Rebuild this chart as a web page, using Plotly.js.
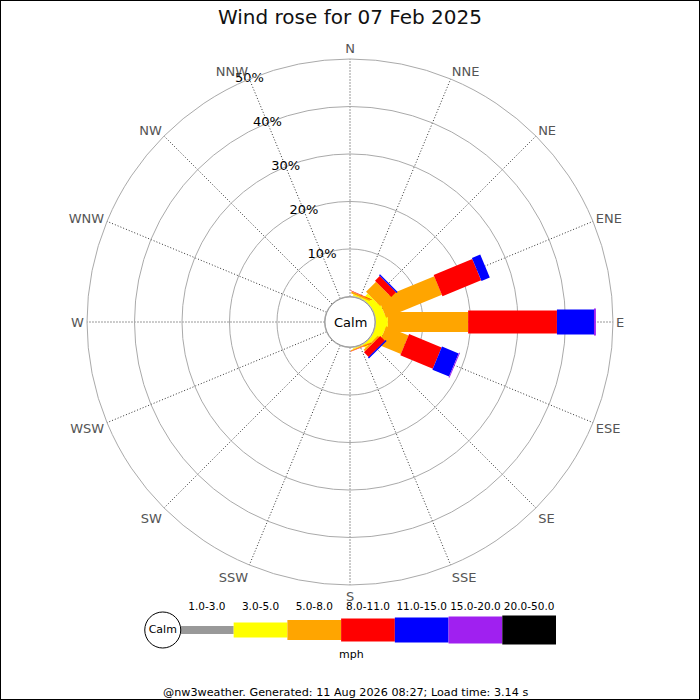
<!DOCTYPE html>
<html>
<head>
<meta charset="utf-8">
<script src="https://cdn.plot.ly/plotly-3.0.1.min.js"></script>
<style>
  html, body { margin: 0; padding: 0; background: #fff; }
  #chart { width: 700px; height: 700px; }
</style>
</head>
<body>
<div id="chart"></div>
<script>
// wind rose, 07 Feb 2025 - percent of time per direction and speed class
directions = ["N","NNE","NE","ENE","E","ESE","SE","SSE","S","SSW","SW","WSW","W","WNW","NW","NNW"];
angles = [0,22.5,45,67.5,90,112.5,135,157.5,180,202.5,225,247.5,270,292.5,315,337.5];

speed_classes = ["1.0-3.0","3.0-5.0","5.0-8.0","8.0-11.0","11.0-15.0","15.0-20.0","20.0-50.0"];
class_colors = ["#999999","#ffff00","#ffa500","#ff0000","#0000ff","#a020f0","#000000"];
class_widths = [8, 15, 20, 23, 25, 27, 29];

// one array per speed class, values per direction (N .. NNW)
pct_1_3   = [0, 0,   0,   0,    0,    0,   0,   0,   0,0,0,0,0,0,0,0];
pct_3_5   = [0, 0.3, 1.5, 2.0,  2.6,  2.0, 0.8, 0.2, 0,0,0,0,0,0,0,0];
pct_5_8   = [0, 0.4, 3.0, 12.7, 16.9, 5.1, 0.4, 0.2, 0,0,0,0,0,0,0,0];
pct_8_11  = [0, 0.1, 1.4, 8.8,  18.7, 7.4, 1.4, 0.1, 0,0,0,0,0,0,0,0];
pct_11_15 = [0, 0,   0.3, 1.9,  7.8,  3.8, 0.3, 0,   0,0,0,0,0,0,0,0];
pct_15_20 = [0, 0,   0,   0,    0.4,  0.2, 0,   0,   0,0,0,0,0,0,0,0];
pct_20_50 = [0, 0,   0,   0,    0,    0,   0,   0,   0,0,0,0,0,0,0,0];

ring_vals = [10, 20, 30, 40, 50];
ring_labels = ["10%","20%","30%","40%","50%"];

all_pct = [pct_1_3, pct_3_5, pct_5_8, pct_8_11, pct_11_15, pct_15_20, pct_20_50];

var traces = [];
var cum = angles.map(function() { return 0; });

// each speed class is a thick straight line from where the last class ended
for (var c = 0; c < all_pct.length; c++) {
    var th = [], rr = [];
    for (var d = 0; d < angles.length; d++) {
        var v = all_pct[c][d];
        if (v > 0) {
            th.push(angles[d], angles[d], null);
            rr.push(cum[d], cum[d] + v, null);
            cum[d] += v;
        }
    }
    traces.push({
        type: "scatterpolar",
        mode: "lines",
        theta: th,
        r: rr,
        connectgaps: false,
        line: {color: class_colors[c], width: class_widths[c]},
        hoverinfo: "skip",
        showlegend: false
    });
}

// percent labels along NNW spoke
traces.push({
    type: "scatterpolar",
    mode: "text",
    theta: ring_vals.map(function() { return 337.5; }),
    r: ring_vals,
    text: ring_labels,
    textposition: "middle center",
    textfont: {family: "DejaVu Sans", size: 13, color: "#000"},
    cliponaxis: false,
    hoverinfo: "skip",
    showlegend: false
});

// speed legend at the bottom
for (var c = 0; c < speed_classes.length; c++) {
    traces.push({
        type: "scatter",
        mode: "lines",
        x: [c, c + 1],
        y: [0, 0],
        xaxis: "x", yaxis: "y",
        line: {color: class_colors[c], width: class_widths[c]},
        hoverinfo: "skip",
        showlegend: false
    });
}
traces.push({
    type: "scatter",
    mode: "text",
    x: speed_classes.map(function(s, i) { return i + 0.5; }),
    y: speed_classes.map(function() { return 0.66; }),
    text: speed_classes,
    textposition: "middle center",
    textfont: {family: "DejaVu Sans", size: 10.5, color: "#000"},
    cliponaxis: false,
    xaxis: "x", yaxis: "y",
    hoverinfo: "skip",
    showlegend: false
});
traces.push({
    type: "scatter",
    mode: "markers+text",
    x: [-0.32],
    y: [0],
    text: ["Calm"],
    textposition: "middle center",
    textfont: {family: "DejaVu Sans", size: 11, color: "#000"},
    marker: {size: 36, color: "#fff", line: {color: "#000", width: 1}},
    cliponaxis: false,
    xaxis: "x", yaxis: "y",
    hoverinfo: "skip",
    showlegend: false
});

var layout = {
    width: 700,
    height: 700,
    margin: {l: 0, r: 0, t: 0, b: 0},
    paper_bgcolor: "#fff",
    font: {family: "DejaVu Sans", color: "#000"},
    title: {
        text: "Wind rose for 07 Feb 2025",
        font: {family: "DejaVu Sans", size: 20, color: "#111"},
        x: 0.5, xanchor: "center",
        y: 0.976, yanchor: "middle"
    },
    polar: {
        domain: {x: [0.1243, 0.8757], y: [0.1643, 0.9157]},
        bgcolor: "#fff",
        hole: 0.097,
        angularaxis: {
            rotation: 90,
            direction: "clockwise",
            tickmode: "array",
            tickvals: angles,
            ticktext: directions,
            ticks: "",
            tickfont: {family: "DejaVu Sans", size: 13, color: "#555"},
            showgrid: true,
            gridcolor: "#333",
            gridwidth: 1,
            griddash: "1px,2px",
            showline: true,
            linecolor: "#aaa",
            linewidth: 1
        },
        radialaxis: {
            range: [0, 50],
            tickmode: "array",
            tickvals: ring_vals,
            showticklabels: false,
            ticks: "",
            showline: false,
            gridcolor: "#aaa",
            gridwidth: 1
        }
    },
    xaxis: {
        domain: [0.2187, 0.7943],
        range: [-0.5, 7],
        visible: false,
        fixedrange: true
    },
    yaxis: {
        domain: [0.05, 0.15],
        range: [-1, 1],
        visible: false,
        fixedrange: true
    },
    shapes: [
        // calm circle in the middle of the rose
        {type: "circle", xref: "paper", yref: "paper",
         x0: 325/700, x1: 375/700, y0: 353/700, y1: 403/700,
         fillcolor: "#fff", line: {color: "#999", width: 1}, layer: "above"},
        {type: "rect", xref: "paper", yref: "paper", x0: 0, x1: 1, y0: 0, y1: 1,
         line: {color: "#000", width: 2}}
    ],
    annotations: [
        {text: "Calm", xref: "paper", yref: "paper", x: 0.5, y: 378/700,
         showarrow: false, font: {family: "DejaVu Sans", size: 13, color: "#000"}},
        {text: "mph", xref: "paper", yref: "paper", x: 351/700, y: 46/700, yanchor: "middle",
         showarrow: false, font: {family: "DejaVu Sans", size: 11, color: "#000"}},
        {text: "@nw3weather. Generated: 11 Aug 2026 08:27; Load time: 3.14 s",
         xref: "paper", yref: "paper", x: 0.494, y: 8/700, yanchor: "middle",
         showarrow: false, font: {family: "DejaVu Sans", size: 11.2, color: "#000"}}
    ]
};

Plotly.newPlot("chart", traces, layout, {displayModeBar: false, staticPlot: true});
</script>
</body>
</html>
